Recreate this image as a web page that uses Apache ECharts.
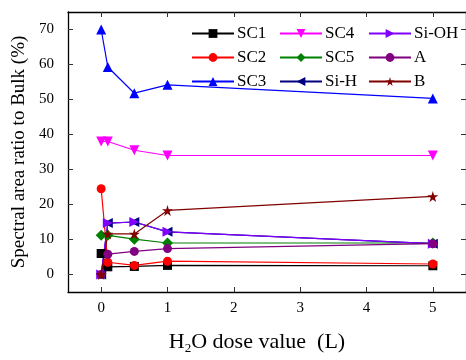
<!DOCTYPE html>
<html>
<head>
<meta charset="utf-8">
<script src="https://cdn.jsdelivr.net/npm/echarts@6/dist/echarts.min.js"></script>
<style>
  html, body { margin: 0; padding: 0; background: #fff; }
  #chart { width: 466px; height: 360px; }
</style>
</head>
<body>
<div id="chart"></div>
<script>
// H2O dose (L)
var doses = [0, 0.1, 0.5, 1, 5];

// spectral area ratio to bulk (%)
var sc1 = [6, 2.2, 2.3, 2.6, 2.5];
var sc2 = [24.5, 3.5, 2.6, 3.8, 3];
var sc3 = [70, 59.3, 51.8, 54.2, 50.3];
var sc4 = [38, 38, 35.5, 34, 34];
var sc5 = [11.2, 11.2, 10.1, 9, 9];
var siH = [0, 14.7, 15, 12.2, 8.8];
var siOH = [0, 14.7, 15, 12.2, 8.8];
var peakA = [0, 5.8, 6.6, 7.4, 8.8];
var peakB = [0, 11.6, 11.6, 18.3, 22.3];

var xTicks = [0, 1, 2, 3, 4, 5];
var yTicks = [0, 10, 20, 30, 40, 50, 60, 70];

var star = 'path://M50,0 L61,35 L98,35 L68,57 L79,91 L50,70 L21,91 L32,57 L2,35 L39,35 Z';
var font = '"Liberation Serif", "DejaVu Serif", serif';

function pts(ys) {
  return doses.map(function (x, i) { return [x, ys[i]]; });
}

function line(name, ys, color, symbol, size, rotate) {
  return {
    name: name,
    type: 'line',
    data: pts(ys),
    color: color,
    symbol: symbol,
    symbolSize: size,
    symbolRotate: rotate || 0,
    showAllSymbol: true,
    lineStyle: { color: color, width: 1.2 },
    itemStyle: { color: color },
    animation: false
  };
}

var chart = echarts.init(document.getElementById('chart'), null, { renderer: 'canvas' });

var legendBase = {
  orient: 'vertical',
  top: 20,
  itemWidth: 42,
  itemHeight: 11,
  itemGap: 7,
  textStyle: { fontFamily: font, fontSize: 17, color: '#000', padding: [0, 0, 0, -2] },
  inactiveColor: '#ccc'
};

var option = {
  backgroundColor: '#fff',
  grid: { left: 68, top: 12, width: 401, height: 294, containLabel: false },
  legend: [
    Object.assign({}, legendBase, { left: 186, data: ['SC1', 'SC2', 'SC3'] }),
    Object.assign({}, legendBase, { left: 274, data: ['SC4', 'SC5', 'Si-H'] }),
    Object.assign({}, legendBase, { left: 363, data: ['Si-OH', 'A', 'B'] })
  ],
  xAxis: [
    {
      type: 'value', min: -0.5, max: 5.5, interval: 1,
      position: 'bottom',
      axisLine: { onZero: false, lineStyle: { color: '#000', width: 1.3 } },
      axisTick: { inside: true, length: 5, lineStyle: { color: '#333' },
        customValues: xTicks },
      minorTick: { show: true, splitNumber: 2, length: 3, lineStyle: { color: '#333' } },
      axisLabel: { fontFamily: font, fontSize: 15, color: '#000', margin: 9,
        customValues: xTicks },
      splitLine: { show: false },
      name: '{a|H}{s|2}{a|O dose value  (L)}',
      nameLocation: 'middle',
      nameGap: 38,
      nameTextStyle: {
        padding: [0, 20, 0, 0],
        rich: {
          a: { fontFamily: font, fontSize: 22, color: '#000' },
          s: { fontFamily: font, fontSize: 13, color: '#000', verticalAlign: 'bottom', padding: [12, 0, 0, 0] }
        }
      }
    },
    {
      type: 'value', min: -0.5, max: 5.5, interval: 1,
      position: 'top',
      axisLine: { onZero: false, lineStyle: { color: '#000', width: 1.3 } },
      axisTick: { inside: true, length: 5, lineStyle: { color: '#333' },
        customValues: xTicks },
      minorTick: { show: true, splitNumber: 2, length: 3, lineStyle: { color: '#333' } },
      axisLabel: { show: false },
      splitLine: { show: false }
    }
  ],
  yAxis: [
    {
      type: 'value', min: -5, max: 75,
      position: 'left',
      axisLine: { onZero: false, lineStyle: { color: '#000', width: 1.3 } },
      axisTick: { inside: true, length: 5, lineStyle: { color: '#333' },
        customValues: yTicks },
      minorTick: { show: true, splitNumber: 2, length: 3, lineStyle: { color: '#333' } },
      axisLabel: { fontFamily: font, fontSize: 15, color: '#000', margin: 14,
        customValues: yTicks },
      splitLine: { show: false },
      name: 'Spectral area ratio to Bulk (%)',
      nameLocation: 'middle',
      nameGap: 37,
      nameTextStyle: { fontFamily: font, fontSize: 19, color: '#000' }
    },
    {
      type: 'value', min: -5, max: 75,
      position: 'right',
      axisLine: { onZero: false, lineStyle: { color: '#000', width: 1.3 } },
      axisTick: { inside: true, length: 5, lineStyle: { color: '#333' },
        customValues: yTicks },
      minorTick: { show: true, splitNumber: 2, length: 3, lineStyle: { color: '#333' } },
      axisLabel: { show: false },
      splitLine: { show: false }
    }
  ],
  series: [
    line('SC1', sc1, '#000000', 'rect', 9),
    line('SC2', sc2, '#ff0000', 'circle', 9),
    line('SC3', sc3, '#0000ff', 'triangle', 10),
    line('SC4', sc4, '#ff00ff', 'triangle', 10, 180),
    line('SC5', sc5, '#008000', 'diamond', 11),
    line('Si-H', siH, '#000080', 'triangle', 10, 90),
    line('Si-OH', siOH, '#8000ff', 'triangle', 10, -90),
    line('A', peakA, '#800080', 'circle', 9),
    line('B', peakB, '#800000', star, 11)
  ]
};

chart.setOption(option);
</script>
</body>
</html>
